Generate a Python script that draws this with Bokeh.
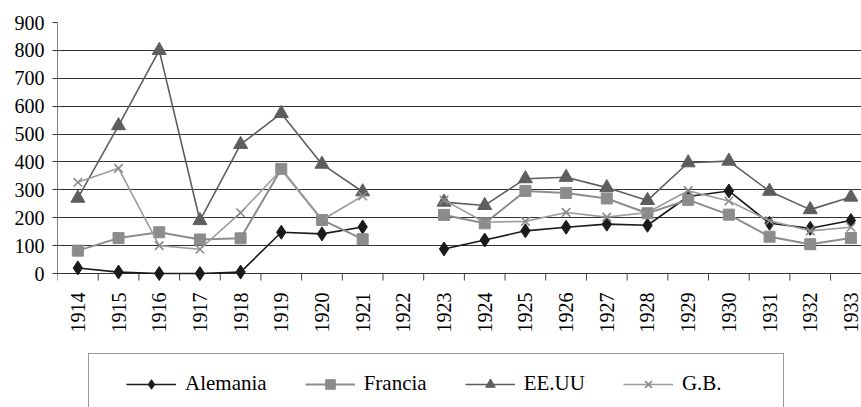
import math
from bokeh.plotting import figure
from bokeh.models import (Range1d, FixedTicker, Legend, LegendItem, ColumnDataSource)
from bokeh.core.properties import value
from bokeh.embed import file_html
from bokeh.resources import INLINE

nan = float("nan")

years = ["1914", "1915", "1916", "1917", "1918", "1919", "1920", "1921", "1922", "1923",
         "1924", "1925", "1926", "1927", "1928", "1929", "1930", "1931", "1932", "1933"]

alemania = [20, 5, 0, 0, 5, 148, 142, 167, nan, 88,
            120, 153, 166, 177, 173, 276, 296, 180, 162, 190]
francia = [82, 127, 148, 122, 126, 375, 192, 123, nan, 210,
           180, 296, 289, 269, 216, 264, 211, 132, 105, 127]
eeuu = [270, 530, 800, 190, 463, 574, 392, 293, nan, 256,
        244, 340, 345, 308, 262, 397, 403, 295, 229, 274]
gb = [327, 377, 100, 87, 218, 372, 192, 278, nan, 263,
      184, 187, 219, 202, 219, 297, 260, 189, 153, 166]

series_names = ["Alemania", "Francia", "EE.UU", "G.B."]
y_ticks = list(range(0, 901, 100))

FONT = "Liberation Serif"

Y_TOP = 900
Y_BOTTOM = -900 * 134 / 251  # room below zero for labels and legend

p = figure(width=861, height=407, output_backend="svg", toolbar_location=None,
           x_range=Range1d(-0.5, 19.26), y_range=Range1d(Y_BOTTOM, Y_TOP),
           min_border_left=57, min_border_right=0, min_border_top=22, min_border_bottom=0)
p.outline_line_color = None
p.background_fill_color = "white"
p.border_fill_color = "white"

xs = list(range(len(years)))
src = ColumnDataSource(dict(x=xs, a=alemania, f=francia, e=eeuu, g=gb))

# x axis drawn manually at y = 0
p.xaxis.visible = False
p.xgrid.grid_line_color = None

p.yaxis.ticker = FixedTicker(ticks=y_ticks)
p.yaxis.bounds = (0, Y_TOP)
p.yaxis.axis_line_color = "#808080"
p.yaxis.major_tick_line_color = "#333333"
p.yaxis.major_tick_out = 5
p.yaxis.major_tick_in = 0
p.yaxis.minor_tick_line_color = None
p.yaxis.major_label_standoff = 8
p.yaxis.major_label_text_font = FONT
p.yaxis.major_label_text_font_size = "20px"
p.yaxis.major_label_text_color = "black"

p.ygrid.ticker = FixedTicker(ticks=y_ticks)
p.ygrid.grid_line_color = "#333333"
p.ygrid.grid_line_width = 1

zeros = [0] * len(years)
bounds_x = [i - 0.5 for i in range(len(years) + 1)]
p.ray(x=bounds_x, y=[0] * len(bounds_x), length=7, length_units="screen",
      angle=-math.pi / 2, line_color="#404040", line_width=1)
p.text(x=xs, y=zeros, text=years, angle=math.pi / 2, text_align="right",
       text_baseline="middle", y_offset=19, text_font=value(FONT),
       text_font_size="20px", text_color="black")

# series
la = p.line("x", "a", source=src, line_color="#1a1a1a", line_width=1.6)
ma = p.scatter("x", "a", source=src, marker="diamond", size=14,
               fill_color="#1a1a1a", line_color="#1a1a1a")
lf = p.line("x", "f", source=src, line_color="#8c8c8c", line_width=2)
mf = p.scatter("x", "f", source=src, marker="square", size=11,
               fill_color="#8c8c8c", line_color="#8c8c8c")
le = p.line("x", "e", source=src, line_color="#5e5e5e", line_width=1.6)
me = p.scatter("x", "e", source=src, marker="triangle", size=14,
               fill_color="#5e5e5e", line_color="#5e5e5e")
lg = p.line("x", "g", source=src, line_color="#9c9c9c", line_width=1.6)
mg = p.scatter("x", "g", source=src, marker="x", size=12,
               line_color="#8a8a8a", line_width=1.6)

# legend box (background)
dummy = p.line(x=[0], y=[0], line_alpha=0)
bg = Legend(items=[LegendItem(label=" ", renderers=[dummy])],
            location=(31, -8), padding=0, glyph_width=1, glyph_height=60,
            label_width=693, label_height=60, label_standoff=0,
            border_line_color="#333333", border_line_width=1,
            background_fill_color="white", background_fill_alpha=1)
p.add_layout(bg)

leg = Legend(items=[LegendItem(label=series_names[0], renderers=[la, ma]),
                    LegendItem(label=series_names[1], renderers=[lf, mf]),
                    LegendItem(label=series_names[2], renderers=[le, me]),
                    LegendItem(label=series_names[3], renderers=[lg, mg])],
             location=(69, 11), orientation="horizontal", padding=0,
             glyph_width=50, glyph_height=24, label_height=24, label_standoff=9,
             spacing=38, border_line_color=None, background_fill_alpha=0,
             label_text_font=FONT, label_text_font_size="21px", label_text_color="black")
p.add_layout(leg)

open("out.html", "w").write(file_html(p, INLINE))
